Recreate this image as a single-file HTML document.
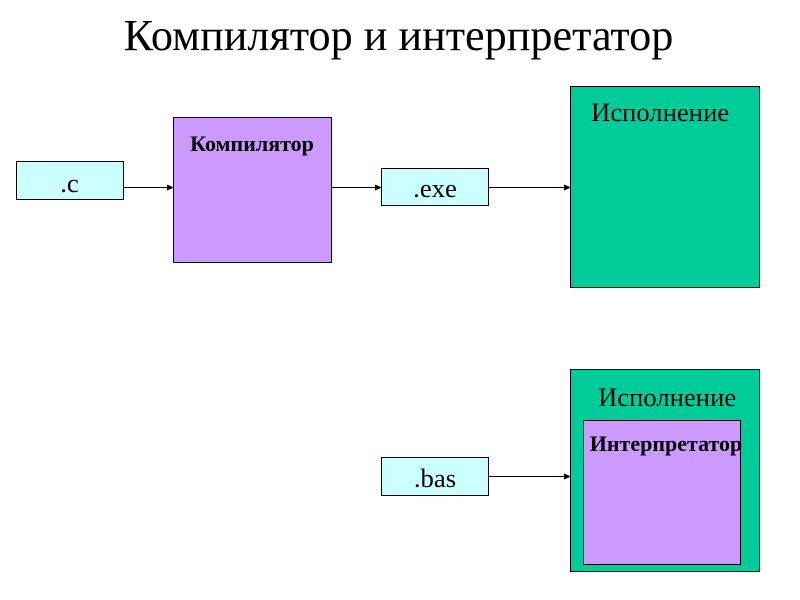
<!DOCTYPE html>
<html><head><meta charset="utf-8">
<style>
html,body{margin:0;padding:0;background:#fff}
svg{display:block}
text{font-family:"Liberation Serif",serif;fill:#000}
</style></head>
<body>
<svg width="800" height="600" viewBox="0 0 800 600" xmlns="http://www.w3.org/2000/svg">
<rect width="800" height="600" fill="#fff"/>
<text x="398.500" y="50" font-size="44.200" text-anchor="middle">Компилятор и интерпретатор</text>

<rect x="16.500" y="161.500" width="107" height="38" fill="#ccffff" stroke="#000" stroke-width="1"/>
<text x="69.500" y="192" font-size="26.670" text-anchor="middle">.c</text>

<rect x="173.500" y="117.500" width="158" height="145" fill="#cc99ff" stroke="#000" stroke-width="1"/>
<text x="252" y="151" font-size="22" font-weight="bold" text-anchor="middle">Компилятор</text>

<rect x="381.500" y="168.500" width="107" height="37" fill="#ccffff" stroke="#000" stroke-width="1"/>
<text x="435" y="197" font-size="26.670" text-anchor="middle">.exe</text>

<rect x="570.500" y="86.500" width="189" height="201" fill="#00cc99" stroke="#000" stroke-width="1"/>
<text x="660" y="121" font-size="26.670" text-anchor="middle">Исполнение</text>

<rect x="570.500" y="369.500" width="189" height="202" fill="#00cc99" stroke="#000" stroke-width="1"/>
<text x="667" y="406" font-size="26.670" text-anchor="middle">Исполнение</text>

<rect x="583.500" y="420.500" width="157" height="144" fill="#cc99ff" stroke="#000" stroke-width="1"/>
<text x="666" y="451" font-size="22" font-weight="bold" text-anchor="middle">Интерпретатор</text>

<rect x="381.500" y="457.500" width="107" height="38" fill="#ccffff" stroke="#000" stroke-width="1"/>
<text x="435" y="487" font-size="26.670" text-anchor="middle">.bas</text>

<g stroke="#000" stroke-width="1" fill="none">
<line x1="123.500" y1="187.500" x2="168" y2="187.500"/>
<line x1="331.500" y1="187.500" x2="376" y2="187.500"/>
<line x1="488.500" y1="187.500" x2="565" y2="187.500"/>
<line x1="488.500" y1="476.500" x2="565" y2="476.500"/>
</g>
<g fill="#000">
<polygon points="174,187.500 167,184.500 167,190.500"/>
<polygon points="382,187.500 375,184.500 375,190.500"/>
<polygon points="571,187.500 564,184.500 564,190.500"/>
<polygon points="571,476.500 564,473.500 564,479.500"/>
</g>
</svg>
</body></html>
